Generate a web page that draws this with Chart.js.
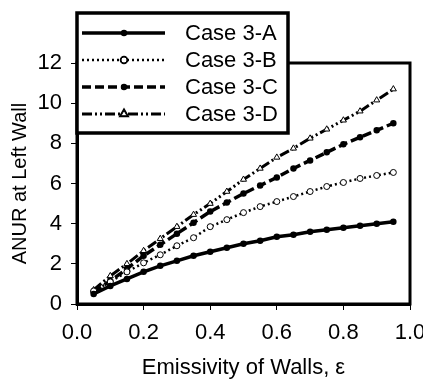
<!DOCTYPE html>
<html>
<head>
<meta charset="utf-8">
<script src="https://cdn.jsdelivr.net/npm/chart.js@4"></script>
<style>
  html, body { margin: 0; padding: 0; background: #fff; overflow: hidden; }
  #wrap { width: 423px; height: 381px; }
</style>
</head>
<body>
<div id="wrap"><canvas id="anurChart" width="423" height="381"></canvas></div>
<script>
// emissivity values along x
const emissivity = [0.05, 0.10, 0.15, 0.20, 0.25, 0.30, 0.35, 0.40, 0.45, 0.50,
                    0.55, 0.60, 0.65, 0.70, 0.75, 0.80, 0.85, 0.90, 0.95];

const caseA = [0.5, 0.9, 1.25, 1.6, 1.9, 2.15, 2.4, 2.6, 2.8, 3.0,
               3.15, 3.35, 3.45, 3.6, 3.7, 3.8, 3.9, 4.0, 4.1];
const caseB = [0.65, 1.1, 1.6, 2.05, 2.45, 2.9, 3.3, 3.85, 4.2, 4.55,
               4.85, 5.1, 5.35, 5.6, 5.85, 6.05, 6.25, 6.4, 6.55];
const caseC = [0.6, 1.15, 1.75, 2.4, 2.95, 3.5, 4.05, 4.6, 5.05, 5.5,
               5.9, 6.3, 6.75, 7.15, 7.55, 7.95, 8.3, 8.65, 9.0];
const caseD = [0.7, 1.4, 2.0, 2.65, 3.25, 3.85, 4.45, 5.0, 5.6, 6.2,
               6.75, 7.3, 7.75, 8.25, 8.7, 9.15, 9.6, 10.15, 10.7];

const caseLabels = ['Case 3-A', 'Case 3-B', 'Case 3-C', 'Case 3-D'];
const xTicks = [0.0, 0.2, 0.4, 0.6, 0.8, 1.0];
const yTicks = [0, 2, 4, 6, 8, 10, 12];

const FONT = "'Liberation Sans', Arial, sans-serif";

function toPoints(ys) {
    return ys.map((y, i) => ({ x: emissivity[i], y: y }));
}

// box around the plot area
const framePlugin = {
    id: 'frame',
    afterDatasetsDraw(chart) {
        const a = chart.chartArea;
        const ctx = chart.ctx;
        ctx.save();
        ctx.strokeStyle = '#000';
        ctx.lineWidth = 3;
        ctx.strokeRect(a.left, a.top, a.right - a.left, a.bottom - a.top);
        ctx.restore();
    }
};

// boxed legend sitting over the top-left corner
const boxLegendPlugin = {
    id: 'boxLegend',
    afterDraw(chart) {
        const ctx = chart.ctx;
        const bx = 77, by = 13, bw = 211, bh = 120;
        ctx.save();
        ctx.fillStyle = '#fff';
        ctx.fillRect(bx, by, bw, bh);
        ctx.strokeStyle = '#000';
        ctx.lineWidth = 3.5;
        ctx.strokeRect(bx, by, bw, bh);

        const rows = [33, 60, 87, 114];
        chart.data.datasets.forEach((ds, i) => {
            const y = rows[i];
            ctx.strokeStyle = '#000';
            ctx.lineWidth = ds.borderWidth;
            ctx.setLineDash(ds.borderDash || []);
            ctx.beginPath();
            ctx.moveTo(82, y);
            ctx.lineTo(165, y);
            ctx.stroke();
            ctx.setLineDash([]);
            Chart.helpers.drawPoint(ctx, {
                pointStyle: ds.pointStyle,
                radius: ds.pointRadius,
                borderWidth: 1
            }, 124, y);
            ctx.fillStyle = ds.pointBackgroundColor;
            ctx.strokeStyle = '#000';
            ctx.lineWidth = 1;
            ctx.fill();
            ctx.stroke();

            ctx.fillStyle = '#000';
            ctx.font = '22px ' + FONT;
            ctx.textBaseline = 'middle';
            ctx.fillText(ds.label, 185, y + 1);
        });
        ctx.restore();
    }
};

const ctxEl = document.getElementById('anurChart');
new Chart(ctxEl.getContext('2d'), {
    type: 'scatter',
    data: {
        datasets: [{
            label: caseLabels[0],
            data: toPoints(caseA),
            showLine: true,
            borderColor: '#000',
            borderWidth: 3.5,
            pointStyle: 'circle',
            pointRadius: 1.5,
            pointBackgroundColor: '#000',
            pointBorderColor: '#000'
        }, {
            label: caseLabels[1],
            data: toPoints(caseB),
            showLine: true,
            borderColor: '#000',
            borderWidth: 2.5,
            borderDash: [2, 3],
            pointStyle: 'circle',
            pointRadius: 3,
            pointBorderWidth: 1,
            pointBackgroundColor: '#fff',
            pointBorderColor: '#000'
        }, {
            label: caseLabels[2],
            data: toPoints(caseC),
            showLine: true,
            borderColor: '#000',
            borderWidth: 3.5,
            borderDash: [9, 4],
            pointStyle: 'circle',
            pointRadius: 1.5,
            pointBackgroundColor: '#000',
            pointBorderColor: '#000'
        }, {
            label: caseLabels[3],
            data: toPoints(caseD),
            showLine: true,
            borderColor: '#000',
            borderWidth: 3,
            borderDash: [10, 3, 2, 3, 2, 3],
            pointStyle: 'triangle',
            pointRadius: 3.5,
            pointBorderWidth: 1,
            pointBackgroundColor: '#fff',
            pointBorderColor: '#000'
        }]
    },
    options: {
        responsive: false,
        animation: false,
        layout: { padding: { top: 63, right: 13, left: 0, bottom: 0 } },
        plugins: {
            legend: { display: false },
            tooltip: { enabled: false }
        },
        scales: {
            x: {
                type: 'linear',
                min: 0,
                max: 1,
                afterBuildTicks(scale) {
                    scale.ticks = xTicks.map(v => ({ value: v }));
                },
                afterFit(scale) {
                    scale.paddingLeft = 0;
                    scale.paddingRight = 0;
                    scale.height = 77;
                },
                border: { display: true, color: '#000', width: 3 },
                grid: { display: true, drawOnChartArea: false, color: '#000', tickLength: 6, lineWidth: 1 },
                ticks: {
                    color: '#000',
                    font: { family: FONT, size: 22 },
                    padding: 10,
                    maxRotation: 0,
                    callback: v => v.toFixed(1)
                },
                title: {
                    display: true,
                    text: 'Emissivity of Walls, ε',
                    color: '#000',
                    font: { family: FONT, size: 22 },
                    padding: { top: 4, bottom: 0 }
                }
            },
            y: {
                type: 'linear',
                min: 0,
                max: 12,
                afterBuildTicks(scale) {
                    scale.ticks = yTicks.map(v => ({ value: v }));
                },
                afterFit(scale) {
                    scale.paddingTop = 0;
                    scale.paddingBottom = 0;
                    scale.width = 77;
                },
                border: { display: true, color: '#000', width: 3 },
                grid: { display: true, drawOnChartArea: false, color: '#000', tickLength: 6, lineWidth: 1 },
                ticks: {
                    color: '#000',
                    font: { family: FONT, size: 22 },
                    padding: 9
                },
                title: {
                    display: true,
                    text: 'ANUR at Left Wall',
                    color: '#000',
                    font: { family: FONT, size: 20 },
                    padding: { top: 8, bottom: 0 }
                }
            }
        }
    },
    plugins: [framePlugin, boxLegendPlugin]
});
</script>
</body>
</html>
